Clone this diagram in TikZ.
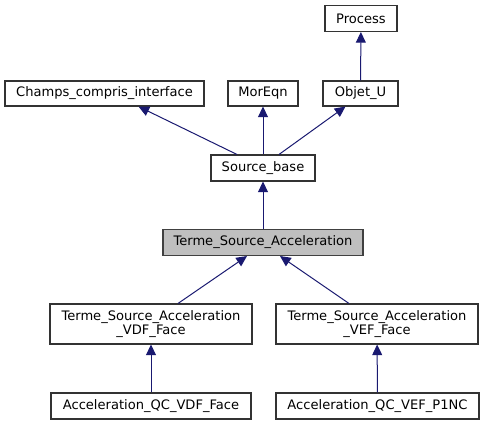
\documentclass[tikz,border=0pt]{standalone}
\usepackage{fontspec}
\setmainfont{DejaVu Sans}
\usetikzlibrary{arrows.meta,calc}
\begin{document}
\begin{tikzpicture}[x=0.75pt,y=-0.75pt,
  box/.style={draw=black!80,fill=white,line width=0.8pt,inner sep=0pt,font=\fontsize{9.8pt}{11pt}\selectfont,align=center},
  hl/.style={box,fill=black!25,draw=black!75},
  edge/.style={draw={rgb,255:red,25;green,25;blue,112},line width=0.75pt,-{Triangle[length=8pt,width=7.5pt]}}]
\useasboundingbox (0,0) rectangle (483,425);
\node[box,minimum width=72*0.75pt,minimum height=26*0.75pt] (proc) at (361,18.5) {Process};
\node[box,minimum width=199*0.75pt,minimum height=25*0.75pt] (champs) at (104.5,93.5) {Champs\_compris\_interface};
\node[box,minimum width=70*0.75pt,minimum height=25*0.75pt] (moreqn) at (263,93.5) {MorEqn};
\node[box,minimum width=75*0.75pt,minimum height=25*0.75pt] (objet) at (360.5,93.5) {Objet\_U};
\node[box,minimum width=104*0.75pt,minimum height=26*0.75pt] (sb) at (263,168) {Source\_base};
\node[hl,minimum width=200*0.75pt,minimum height=26*0.75pt] (tsa) at (263,242.5) {Terme\_Source\_Acceleration};
\node[box,minimum width=202*0.75pt,minimum height=40*0.75pt] (vdf) at (151,324) {Terme\_Source\_Acceleration\\\_VDF\_Face};
\node[box,minimum width=202*0.75pt,minimum height=40*0.75pt] (vef) at (377,324) {Terme\_Source\_Acceleration\\\_VEF\_Face};
\node[box,minimum width=200*0.75pt,minimum height=26*0.75pt] (qcvdf) at (151,406) {Acceleration\_QC\_VDF\_Face};
\node[box,minimum width=203*0.75pt,minimum height=26*0.75pt] (qcvef) at (377.5,406) {Acceleration\_QC\_VEF\_P1NC};
\draw[edge] (objet) -- (proc);
\draw[edge] ([xshift=-26*0.75pt]sb.north) -- ([xshift=34*0.75pt]champs.south);
\draw[edge] (sb) -- (moreqn);
\draw[edge] ([xshift=16*0.75pt]sb.north) -- ([xshift=-15*0.75pt]objet.south);
\draw[edge] (tsa) -- (sb);
\draw[edge] ([xshift=27*0.75pt]vdf.north) -- ([xshift=-16*0.75pt]tsa.south);
\draw[edge] ([xshift=-28*0.75pt]vef.north) -- ([xshift=17*0.75pt]tsa.south);
\draw[edge] (qcvdf) -- (vdf);
\draw[edge] (qcvef) -- (vef);
\end{tikzpicture}
\end{document}
